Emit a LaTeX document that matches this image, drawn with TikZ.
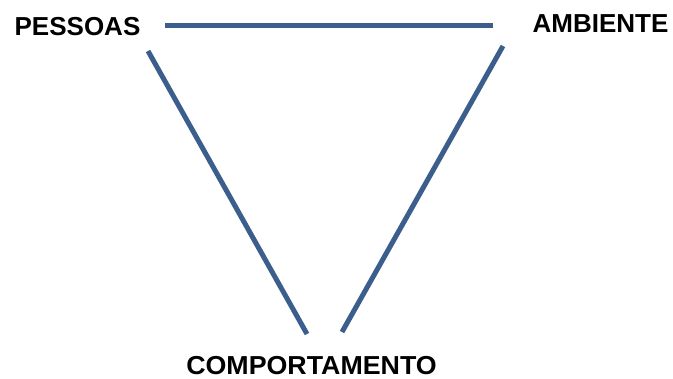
\documentclass[tikz,border=0pt]{standalone}
\usepackage{fontspec}
\setmainfont{Liberation Sans}
\usepackage{xcolor}
\usetikzlibrary{positioning}
\definecolor{edgeblue}{RGB}{59,94,141}

\begin{document}
\begin{tikzpicture}[
  x=1pt,y=-1pt,
  label/.style={font=\fontsize{26}{30}\selectfont\bfseries,inner sep=0pt,anchor=center},
  edge/.style={draw=edgeblue,line width=5pt}
]
\useasboundingbox (0,0) rectangle (673,379);

\node[label] (pessoas) at (77.5, 27) {PESSOAS};
\node[label] (ambiente) at (600.5, 24) {AMBIENTE};
\node[label,xscale=1.03] (comport) at (311.5, 366) {COMPORTAMENTO};

\coordinate (topL) at (165, 25.5);
\coordinate (topR) at (493, 25.5);
\coordinate (leftA) at (148, 51);
\coordinate (leftB) at (307, 334);
\coordinate (rightA) at (503, 46);
\coordinate (rightB) at (342, 332);

\draw[edge] (topL) -- (topR);
\draw[edge] (leftA) -- (leftB);
\draw[edge] (rightA) -- (rightB);
\end{tikzpicture}
\end{document}
